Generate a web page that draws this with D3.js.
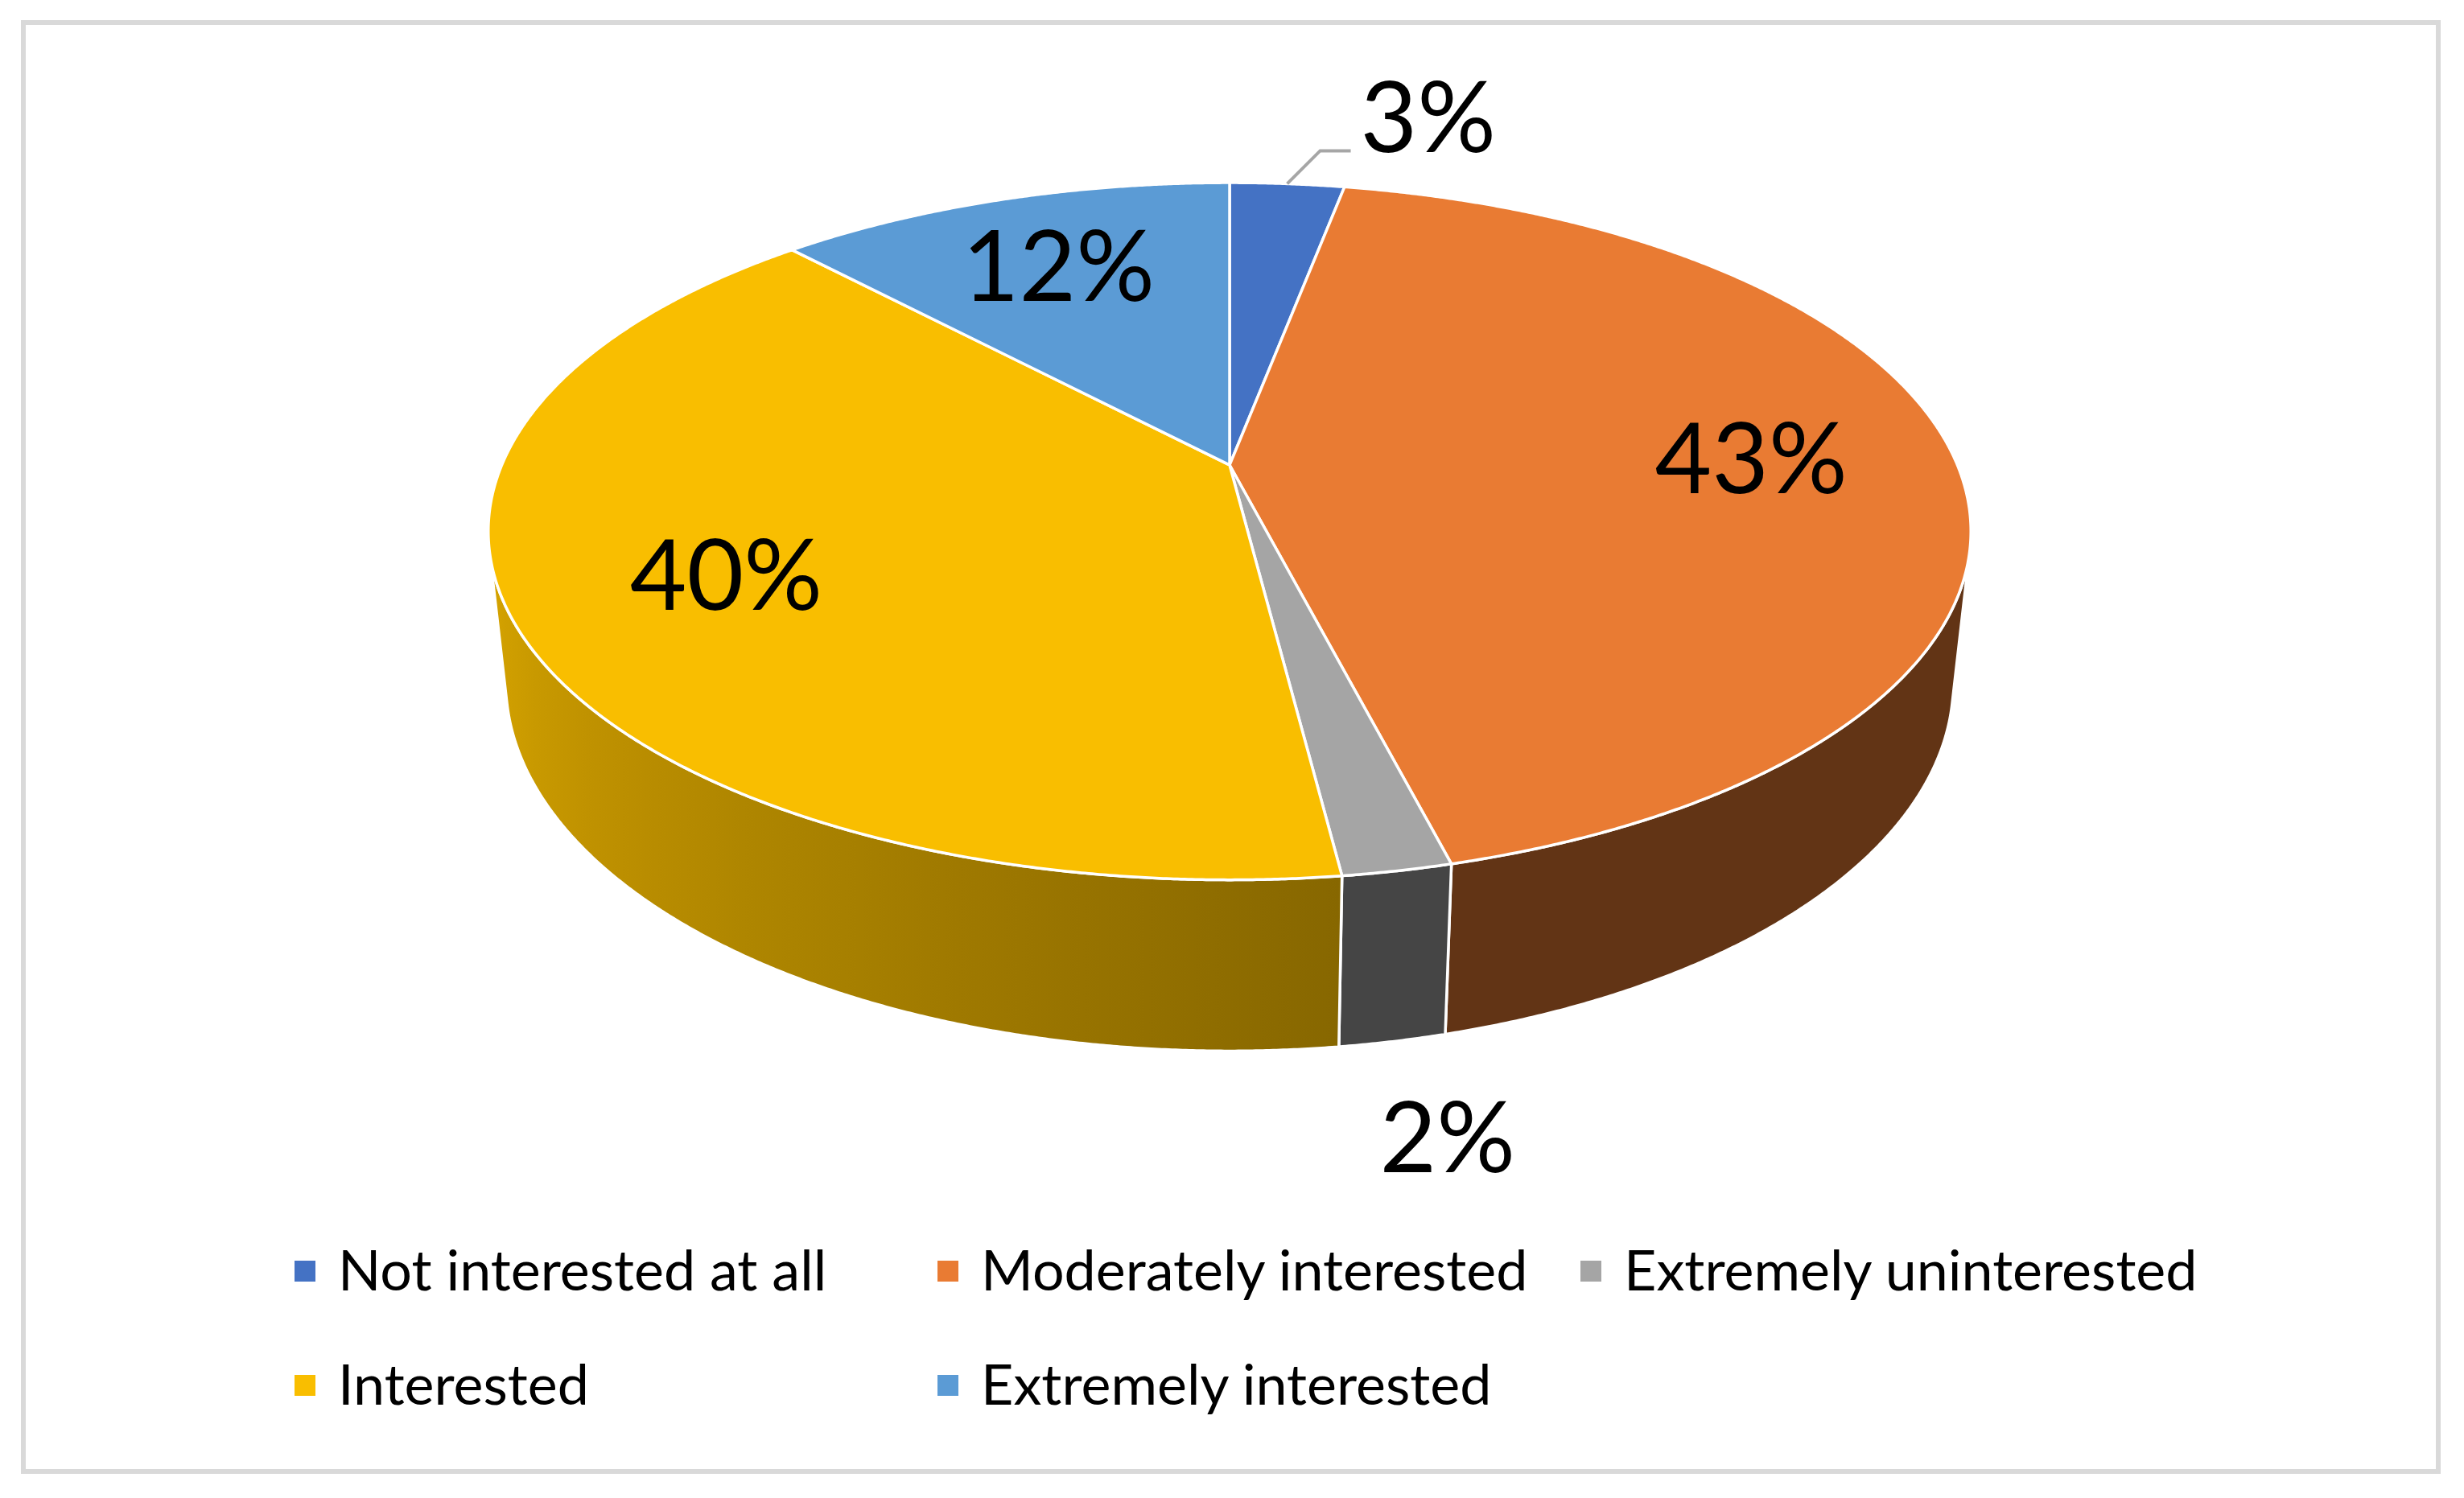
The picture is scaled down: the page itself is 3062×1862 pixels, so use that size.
<!DOCTYPE html>
<html>
<head>
<meta charset="utf-8">
<script src="https://cdn.jsdelivr.net/npm/d3@7"></script>
<style>
  body { margin: 0; background: #fff; }
  text { font-family: Lato, "Open Sans", sans-serif; fill: #000; }
</style>
</head>
<body>
<svg id="chart"></svg>
<script>
// data
var categories = ["Not interested at all", "Moderately interested", "Extremely uninterested", "Interested", "Extremely interested"];
var values = [3, 43, 2, 40, 12];
var valueLabels = ["3%", "43%", "2%", "40%", "12%"];
var colors = ["#4472C4", "#E97B33", "#A5A5A5", "#F9BE00", "#5B9BD5"];

var W = 3062, H = 1862;
var svg = d3.select("#chart").attr("width", W).attr("height", H);

// chart frame
svg.append("rect")
  .attr("x", 29).attr("y", 28)
  .attr("width", 3001).attr("height", 1801)
  .attr("fill", "#fff")
  .attr("stroke", "#d9d9d9")
  .attr("stroke-width", 6);

// 3d view settings (radius = 1, camera tilted down, some perspective)
var cx = 1528, cy = 578, F = 4220;
var tilt = 27.5 * Math.PI / 180, D = 4.666, thick = 0.236;
var sn = Math.sin(tilt), cs = Math.cos(tilt);

function project(r, a, y) {
  var X = r * Math.sin(a), Z = -r * Math.cos(a);
  var dep = D - y * sn - Z * cs;
  var up = y * cs - Z * sn;
  return [cx + X * F / dep, cy - up * F / dep];
}

function arcPoints(a0, a1, y) {
  var n = Math.max(2, Math.ceil(Math.abs(a1 - a0) / 0.004));
  return d3.range(n + 1).map(function(i) { return project(1, a0 + (a1 - a0) * i / n, y); });
}

// shading of the side wall, light coming from the left
function shade(a) {
  var deg = a * 180 / Math.PI;
  if (deg < 172.5) return 0.42;
  return 0.54 + 0.33 * Math.min(1, (deg - 172.5) / 84);
}
function dim(col, k) {
  var c = d3.rgb(col);
  return d3.rgb(c.r * k, c.g * k, c.b * k).formatHex();
}

var pie = d3.pie().sort(null).value(function(d) { return d; });
var arcs = pie(values);

var line = d3.line();
var defs = svg.append("defs");

// visible part of the cylinder wall
var aLim = Math.acos(-1 / (D * cs));
var vis0 = aLim, vis1 = 2 * Math.PI - aLim;

var sides = svg.append("g").attr("class", "sides");
arcs.forEach(function(d, i) {
  var lo = Math.max(d.startAngle, vis0), hi = Math.min(d.endAngle, vis1);
  if (hi <= lo) return;
  var p0 = project(1, lo, 0), p1 = project(1, hi, 0);
  var grad = defs.append("linearGradient")
    .attr("id", "side" + i)
    .attr("gradientUnits", "userSpaceOnUse")
    .attr("x1", p0[0]).attr("y1", 0).attr("x2", p1[0]).attr("y2", 0);
  var eps = Math.min(0.01, (hi - lo) / 4);
  d3.range(11).forEach(function(k) {
    var a = lo + (hi - lo) * k / 10;
    var px = project(1, a, 0)[0];
    var as = Math.max(lo + eps, Math.min(hi - eps, a));
    grad.append("stop")
      .attr("offset", (px - p0[0]) / (p1[0] - p0[0]))
      .attr("stop-color", dim(colors[i], shade(as)));
  });
  var pts = arcPoints(lo, hi, 0).concat(arcPoints(hi, lo, -thick));
  sides.append("path")
    .attr("d", line(pts) + "Z")
    .attr("fill", "url(#side" + i + ")")
    .attr("stroke", "#fff")
    .attr("stroke-width", 3.5)
    .attr("stroke-linejoin", "round");
});

var tops = svg.append("g").attr("class", "tops");
arcs.forEach(function(d, i) {
  var pts = [project(0, 0, 0)].concat(arcPoints(d.startAngle, d.endAngle, 0));
  tops.append("path")
    .attr("d", line(pts) + "Z")
    .attr("fill", colors[i])
    .attr("stroke", "#fff")
    .attr("stroke-width", 3.5)
    .attr("stroke-linejoin", "round");
});

// data labels
var labelSize = 122;
var labels = svg.append("g").attr("class", "labels");
arcs.forEach(function(d, i) {
  var mid = (d.startAngle + d.endAngle) / 2;
  if (values[i] >= 5) {
    var p = project(0.72, mid, 0);
    labels.append("text")
      .attr("x", p[0]).attr("y", p[1])
      .attr("dy", "0.36em")
      .attr("text-anchor", "middle")
      .attr("font-size", labelSize)
      .text(valueLabels[i]);
  } else if (Math.cos(mid) > 0) {
    // back of the pie: label above with a leader line
    var e = project(1, mid, 0);
    var elbow = [e[0] + 41, e[1] - 41], end = [elbow[0] + 38, elbow[1]];
    labels.append("path")
      .attr("d", line([e, elbow, end]))
      .attr("fill", "none")
      .attr("stroke", "#a6a6a6")
      .attr("stroke-width", 4);
    labels.append("text")
      .attr("x", end[0] + 12).attr("y", elbow[1] + 2)
      .attr("font-size", labelSize)
      .text(valueLabels[i]);
  } else {
    var b = project(1, mid, -thick);
    labels.append("text")
      .attr("x", b[0] - 16).attr("y", b[1] + 162)
      .attr("font-size", labelSize)
      .text(valueLabels[i]);
  }
});

// legend, three entries per row
var perRow = 3, colW = 799, rowH = 142, legX = 366, legY = 1567;
var legend = svg.selectAll(".legend")
  .data(categories)
  .enter()
  .append("g")
  .attr("class", "legend")
  .attr("transform", function(d, i) {
    return "translate(" + (legX + (i % perRow) * colW) + "," + (legY + Math.floor(i / perRow) * rowH) + ")";
  });

legend.append("rect")
  .attr("width", 26)
  .attr("height", 26)
  .attr("fill", function(d, i) { return colors[i]; });

legend.append("text")
  .attr("x", 54)
  .attr("y", 37)
  .attr("font-size", 70)
  .text(function(d) { return d; });
</script>
</body>
</html>
